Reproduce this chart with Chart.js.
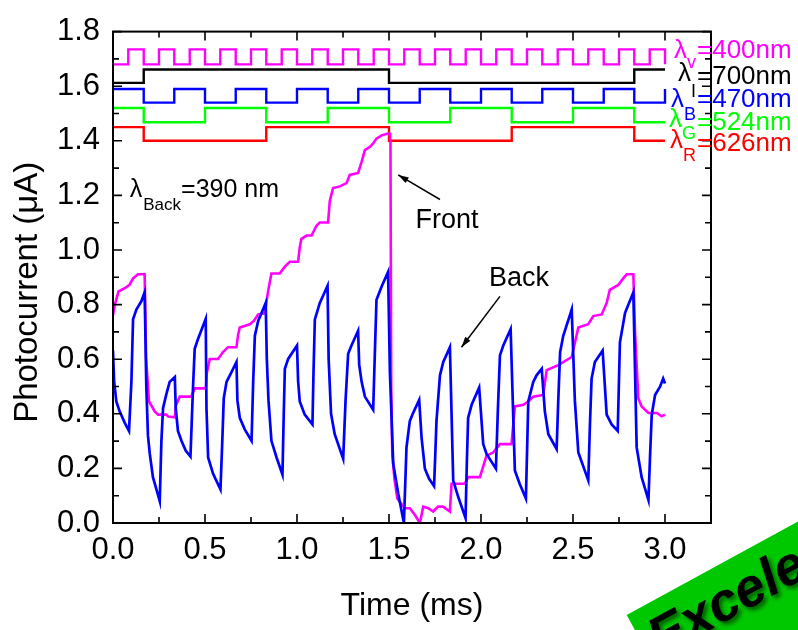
<!DOCTYPE html>
<html>
<head>
<meta charset="utf-8">
<script src="https://cdn.jsdelivr.net/npm/chart.js@4.4.0/dist/chart.umd.min.js"></script>
<style>
  html, body { margin: 0; padding: 0; background: #fff; }
</style>
</head>
<body>
<canvas id="chart" width="798" height="630"></canvas>
<script>
// photocurrent traces, time in ms, current in uA
var frontTime = [
  0, 0.01, 0.03, 0.064, 0.09, 0.109, 0.136, 0.172, 0.18, 0.196,
  0.227, 0.245, 0.29, 0.3, 0.336, 0.342, 0.363, 0.426, 0.444, 0.504,
  0.51, 0.526, 0.571, 0.598, 0.625, 0.671, 0.68, 0.689, 0.743, 0.765,
  0.789, 0.825, 0.843, 0.861, 0.906, 0.934, 0.961, 1.006, 1.015, 1.024,
  1.052, 1.079, 1.106, 1.124, 1.169, 1.178, 1.196, 1.233, 1.269, 1.287,
  1.332, 1.351, 1.369, 1.396, 1.414, 1.432, 1.46, 1.49, 1.505, 1.508,
  1.512, 1.518, 1.53, 1.545, 1.586, 1.613, 1.64, 1.668, 1.686, 1.713,
  1.74, 1.767, 1.794, 1.831, 1.84, 1.912, 1.93, 1.994, 2.03, 2.066,
  2.103, 2.166, 2.184, 2.23, 2.257, 2.284, 2.338, 2.357, 2.42, 2.493,
  2.529, 2.583, 2.61, 2.656, 2.683, 2.7, 2.746, 2.773, 2.792, 2.828,
  2.837, 2.855, 2.873, 2.91, 2.955, 2.982, 3.0
];
var frontCurrent = [
  0.762, 0.8, 0.848, 0.86, 0.872, 0.896, 0.911, 0.911, 0.6, 0.445,
  0.409, 0.397, 0.397, 0.39, 0.387, 0.43, 0.463, 0.463, 0.493, 0.493,
  0.55, 0.601, 0.601, 0.626, 0.644, 0.644, 0.69, 0.716, 0.728, 0.74,
  0.764, 0.768, 0.85, 0.914, 0.914, 0.939, 0.957, 0.957, 1.01, 1.041,
  1.053, 1.053, 1.089, 1.101, 1.101, 1.179, 1.227, 1.233, 1.245, 1.275,
  1.282, 1.323, 1.366, 1.378, 1.39, 1.408, 1.42, 1.426, 1.426, 1.4,
  0.5, 0.25, 0.16, 0.09, 0.054, 0.054, 0.03, 0.0, 0.06, 0.054,
  0.042, 0.06, 0.06, 0.042, 0.144, 0.144, 0.168, 0.168, 0.247, 0.258,
  0.289, 0.289, 0.427, 0.433, 0.445, 0.463, 0.469, 0.56, 0.578, 0.608,
  0.716, 0.728, 0.758, 0.764, 0.806, 0.854, 0.872, 0.896, 0.911, 0.911,
  0.7, 0.457, 0.427, 0.403, 0.403, 0.391, 0.397
];

var backTime = [
  0, 0.006, 0.018, 0.036, 0.064, 0.087, 0.1, 0.109, 0.127, 0.154, 0.172,
  0.181, 0.19, 0.2, 0.217, 0.245, 0.254, 0.263, 0.272, 0.29, 0.308, 0.336,
  0.341, 0.353, 0.372, 0.395, 0.421, 0.435, 0.444, 0.462, 0.504,
  0.508, 0.517, 0.544, 0.584, 0.594, 0.602, 0.617, 0.644, 0.671,
  0.676, 0.689, 0.716, 0.753, 0.762, 0.771, 0.789, 0.83,
  0.836, 0.845, 0.861, 0.889, 0.921, 0.928, 0.934, 0.952, 1.0,
  1.006, 1.015, 1.042, 1.084, 1.09, 1.097, 1.124, 1.166,
  1.172, 1.185, 1.205, 1.251, 1.264, 1.278, 1.296, 1.332,
  1.338, 1.351, 1.369, 1.414, 1.423, 1.432, 1.46, 1.495,
  1.505, 1.523, 1.55, 1.581, 1.595, 1.613, 1.631, 1.664,
  1.677, 1.695, 1.718, 1.745, 1.752, 1.758, 1.777, 1.795, 1.831,
  1.849, 1.876, 1.916, 1.923, 1.93, 1.949, 1.99,
  2.012, 2.03, 2.081, 2.092, 2.103, 2.121, 2.161,
  2.184, 2.21, 2.244, 2.257, 2.284, 2.302, 2.33,
  2.347, 2.366, 2.411, 2.42, 2.43, 2.447, 2.493,
  2.51, 2.529, 2.583, 2.592, 2.601, 2.619, 2.661,
  2.683, 2.71, 2.743, 2.749, 2.755, 2.783, 2.828,
  2.846, 2.873, 2.91, 2.919, 2.928, 2.946, 2.973, 2.99, 3.0
];
var backCurrent = [
  0.632, 0.52, 0.445, 0.409, 0.367, 0.337, 0.517, 0.746, 0.782, 0.812, 0.845,
  0.5, 0.32, 0.253, 0.168, 0.102, 0.08, 0.3, 0.421, 0.472, 0.517, 0.535,
  0.42, 0.337, 0.301, 0.265, 0.243, 0.5, 0.638, 0.674, 0.748,
  0.42, 0.24, 0.18, 0.123, 0.3, 0.457, 0.517, 0.553, 0.59,
  0.45, 0.385, 0.343, 0.301, 0.52, 0.686, 0.74, 0.806,
  0.6, 0.45, 0.301, 0.24, 0.177, 0.4, 0.565, 0.601, 0.65,
  0.52, 0.445, 0.397, 0.361, 0.56, 0.746, 0.806, 0.869,
  0.6, 0.4, 0.325, 0.235, 0.45, 0.62, 0.65, 0.704,
  0.58, 0.518, 0.463, 0.415, 0.62, 0.818, 0.866, 0.92,
  0.55, 0.217, 0.108, 0.0, 0.277, 0.373, 0.403, 0.451,
  0.313, 0.199, 0.162, 0.135, 0.26, 0.373, 0.541, 0.59, 0.644,
  0.156, 0.096, 0.018, 0.22, 0.385, 0.433, 0.496,
  0.289, 0.253, 0.199, 0.42, 0.614, 0.65, 0.71,
  0.192, 0.144, 0.09, 0.445, 0.517, 0.541, 0.565,
  0.409, 0.325, 0.271, 0.45, 0.626, 0.686, 0.782,
  0.45, 0.258, 0.156, 0.36, 0.529, 0.59, 0.632,
  0.397, 0.361, 0.337, 0.5, 0.662, 0.77, 0.845,
  0.277, 0.168, 0.084, 0.25, 0.397, 0.469, 0.499, 0.529, 0.511
];

// LED drive pulses (switch times and levels), drawn as steps
var violetTime = [0, 0.083, 0.167, 0.25, 0.333, 0.417, 0.5, 0.583, 0.667, 0.75, 0.833, 0.917,
  1.0, 1.083, 1.167, 1.25, 1.333, 1.417, 1.5, 1.583, 1.667, 1.75, 1.833, 1.917,
  2.0, 2.083, 2.167, 2.25, 2.333, 2.417, 2.5, 2.583, 2.667, 2.75, 2.833, 2.917, 3.0];
var violetLevel = [1.68, 1.735, 1.68, 1.735, 1.68, 1.735, 1.68, 1.735, 1.68, 1.735, 1.68, 1.735,
  1.68, 1.735, 1.68, 1.735, 1.68, 1.735, 1.68, 1.735, 1.68, 1.735, 1.68, 1.735,
  1.68, 1.735, 1.68, 1.735, 1.68, 1.735, 1.68, 1.735, 1.68, 1.735, 1.68, 1.735, 1.68];
var irTime = [0, 0.167, 1.5, 2.833, 3.0];
var irLevel = [1.612, 1.661, 1.612, 1.661, 1.661];
var blueTime = [0, 0.167, 0.333, 0.5, 0.667, 0.833, 1.0, 1.167, 1.333, 1.5,
  1.667, 1.833, 2.0, 2.167, 2.333, 2.5, 2.667, 2.833, 3.0];
var blueLevel = [1.59, 1.54, 1.59, 1.54, 1.59, 1.54, 1.59, 1.54, 1.59, 1.54,
  1.59, 1.54, 1.59, 1.54, 1.59, 1.54, 1.59, 1.54, 1.59];
var greenTime = [0, 0.167, 0.5, 0.833, 1.167, 1.5, 1.833, 2.167, 2.5, 2.833, 3.0];
var greenLevel = [1.52, 1.468, 1.52, 1.468, 1.52, 1.468, 1.52, 1.468, 1.52, 1.468, 1.468];
var redTime = [0, 0.167, 0.833, 1.5, 2.167, 2.833, 3.0];
var redLevel = [1.45, 1.4, 1.45, 1.4, 1.45, 1.4, 1.4];

// axis ticks
var xTicks = [0, 0.5, 1.0, 1.5, 2.0, 2.5, 3.0];
var xMinor = [0.25, 0.75, 1.25, 1.75, 2.25, 2.75];
var yTicks = [0, 0.2, 0.4, 0.6, 0.8, 1.0, 1.2, 1.4, 1.6, 1.8];
var yMinor = [0.1, 0.3, 0.5, 0.7, 0.9, 1.1, 1.3, 1.5, 1.7];

// pulse labels on the right
var pulseNames = ['v', 'I', 'B', 'G', 'R'];
var pulseText = ['=400nm', '=700nm', '=470nm', '=524nm', '=626nm'];
var pulseColors = ['#ff00ff', '#000000', '#0000ff', '#00ff00', '#ff0000'];

var FONT = '"Liberation Sans", Arial, sans-serif';

function pairs(xs, ys) {
  return xs.map(function (x, i) {
    return { x: x, y: ys[i] };
  });
}

function stepSet(xs, ys, color) {
  return {
    data: pairs(xs, ys),
    borderColor: color,
    borderWidth: 2.4,
    stepped: true,
    pointRadius: 0,
    order: 2,
  };
}

// label placement, in axis units
var labelSpots = [
  { main: [3.174, 1.705], lamDy: 0, subDrop: 10 },
  { main: [3.174, 1.607], lamDy: -3, subDrop: 13 },
  { main: [3.174, 1.524], lamDy: 0, subDrop: 13 },
  { main: [3.174, 1.441], lamDy: -3, subDrop: 9 },
  { main: [3.174, 1.362], lamDy: -3, subDrop: 10 },
];

var drawArrow = function (ctx, x0, y0, x1, y1) {
  var ang = Math.atan2(y1 - y0, x1 - x0);
  ctx.beginPath();
  ctx.moveTo(x0, y0);
  ctx.lineTo(x1, y1);
  ctx.stroke();
  ctx.beginPath();
  ctx.moveTo(x1, y1);
  ctx.lineTo(x1 - 11 * Math.cos(ang - 0.3), y1 - 11 * Math.sin(ang - 0.3));
  ctx.lineTo(x1 - 11 * Math.cos(ang + 0.3), y1 - 11 * Math.sin(ang + 0.3));
  ctx.closePath();
  ctx.fill();
};

var extras = {
  id: 'extras',
  afterDatasetsDraw: function (chart) {
    var ctx = chart.ctx,
      a = chart.chartArea,
      sx = chart.scales.x,
      sy = chart.scales.y;
    var X = function (v) { return sx.getPixelForValue(v); };
    var Y = function (v) { return sy.getPixelForValue(v); };

    ctx.save();
    // frame and inward ticks on all four sides
    ctx.strokeStyle = '#000';
    ctx.fillStyle = '#000';
    ctx.lineWidth = 2;
    ctx.strokeRect(a.left, a.top, a.right - a.left, a.bottom - a.top);
    ctx.lineWidth = 1.6;
    ctx.beginPath();
    xTicks.concat(xMinor).forEach(function (v, i) {
      var len = i < xTicks.length ? 9 : 6, x = X(v);
      ctx.moveTo(x, a.bottom); ctx.lineTo(x, a.bottom - len);
      ctx.moveTo(x, a.top); ctx.lineTo(x, a.top + len);
    });
    yTicks.concat(yMinor).forEach(function (v, i) {
      var len = i < yTicks.length ? 9 : 6, y = Y(v);
      ctx.moveTo(a.left, y); ctx.lineTo(a.left + len, y);
      ctx.moveTo(a.right, y); ctx.lineTo(a.right - len, y);
    });
    ctx.stroke();

    // lambda_Back note
    ctx.textBaseline = 'alphabetic';
    ctx.textAlign = 'left';
    var bx = X(0.091), by = Y(1.194);
    ctx.font = '25px ' + FONT;
    ctx.fillText('\u03bb', bx, by);
    bx += ctx.measureText('\u03bb').width + 1;
    ctx.font = '17px ' + FONT;
    ctx.fillText('Back', bx, by + 13);
    bx += ctx.measureText('Back').width;
    ctx.font = '25px ' + FONT;
    ctx.fillText('=390 nm', bx, by);

    // Front / Back callouts
    ctx.font = '27px ' + FONT;
    ctx.textAlign = 'center';
    ctx.textBaseline = 'middle';
    ctx.fillText('Front', X(1.815), Y(1.107));
    ctx.fillText('Back', X(2.206), Y(0.896));
    ctx.lineWidth = 1.5;
    drawArrow(ctx, X(1.777), Y(1.185), X(1.55), Y(1.275));
    drawArrow(ctx, X(2.103), Y(0.83), X(1.894), Y(0.644));

    // pulse labels, built leftwards from the "=...nm" part
    ctx.textAlign = 'left';
    ctx.textBaseline = 'alphabetic';
    labelSpots.forEach(function (s, i) {
      var mx = X(s.main[0]), my = Y(s.main[1]);
      ctx.fillStyle = pulseColors[i];
      ctx.font = '26px ' + FONT;
      ctx.fillText(pulseText[i], mx, my);
      ctx.font = '18px ' + FONT;
      var sw = ctx.measureText(pulseNames[i]).width;
      ctx.fillText(pulseNames[i], mx - sw - 1, my + s.subDrop);
      ctx.font = '26px ' + FONT;
      var lw = ctx.measureText('\u03bb').width;
      ctx.fillText('\u03bb', mx - sw - 1 - lw, my + s.lamDy);
    });
    ctx.restore();
  },
  afterDraw: function (chart) {
    var ctx = chart.ctx, sy = chart.scales.y;
    ctx.save();
    // y axis title
    ctx.translate(28, sy.getPixelForValue(0.845));
    ctx.rotate(-Math.PI / 2);
    ctx.fillStyle = '#000';
    ctx.font = '33px ' + FONT;
    ctx.textAlign = 'center';
    ctx.textBaseline = 'middle';
    ctx.fillText('Photocurrent (\u03bcA)', 0, 0);
    ctx.restore();

    // green stamp in the corner
    ctx.save();
    ctx.translate(626.7, 615);
    ctx.rotate(-28.6 * Math.PI / 180);
    ctx.fillStyle = '#00c800';
    ctx.fillRect(0, 0, 420, 130);
    ctx.font = 'italic bold 54px ' + FONT;
    ctx.textAlign = 'left';
    ctx.textBaseline = 'alphabetic';
    ctx.shadowColor = 'rgba(0,0,0,0.55)';
    ctx.shadowBlur = 4;
    ctx.shadowOffsetX = 3;
    ctx.shadowOffsetY = 3;
    ctx.fillStyle = '#000';
    ctx.fillText('Excelente', 9, 53);
    ctx.restore();
  },
};

var chart = new Chart(document.getElementById('chart').getContext('2d'), {
  type: 'line',
  data: {
    datasets: [
      {
        label: 'Back',
        data: pairs(backTime, backCurrent),
        borderColor: '#0000ff',
        borderWidth: 2.7,
        pointRadius: 0,
        tension: 0,
        order: 0,
      },
      {
        label: 'Front',
        data: pairs(frontTime, frontCurrent),
        borderColor: '#ff00ff',
        borderWidth: 2.6,
        pointRadius: 0,
        tension: 0,
        order: 1,
      },
      stepSet(violetTime, violetLevel, '#ff00ff'),
      stepSet(irTime, irLevel, '#000000'),
      stepSet(blueTime, blueLevel, '#0000ff'),
      stepSet(greenTime, greenLevel, '#00ff00'),
      stepSet(redTime, redLevel, '#ff0000'),
    ],
  },
  options: {
    responsive: false,
    animation: false,
    devicePixelRatio: 1,
    layout: { padding: { top: 24, right: 87, left: 0, bottom: 0 } },
    plugins: { legend: { display: false }, tooltip: { enabled: false } },
    scales: {
      x: {
        type: 'linear',
        min: 0,
        max: 3.25,
        grid: { display: false, drawTicks: false },
        border: { display: false },
        afterBuildTicks: function (s) {
          s.ticks = xTicks.map(function (v) { return { value: v }; });
        },
        afterFit: function (s) { s.height = 107; },
        ticks: {
          color: '#000',
          padding: 9,
          maxRotation: 0,
          font: { family: FONT, size: 31 },
          callback: function (v) { return Number(v).toFixed(1); },
        },
        title: {
          display: true,
          text: 'Time (ms)',
          color: '#000',
          font: { family: FONT, size: 32 },
          padding: { top: 0, bottom: 5 },
        },
      },
      y: {
        min: 0,
        max: 1.8,
        grid: { display: false, drawTicks: false },
        border: { display: false },
        afterBuildTicks: function (s) {
          s.ticks = yTicks.map(function (v) { return { value: v }; });
        },
        afterFit: function (s) { s.width = 113; },
        ticks: {
          color: '#000',
          padding: 13,
          font: { family: FONT, size: 31 },
          callback: function (v) { return Number(v).toFixed(1); },
        },
      },
    },
  },
  plugins: [extras],
});
</script>
</body>
</html>
